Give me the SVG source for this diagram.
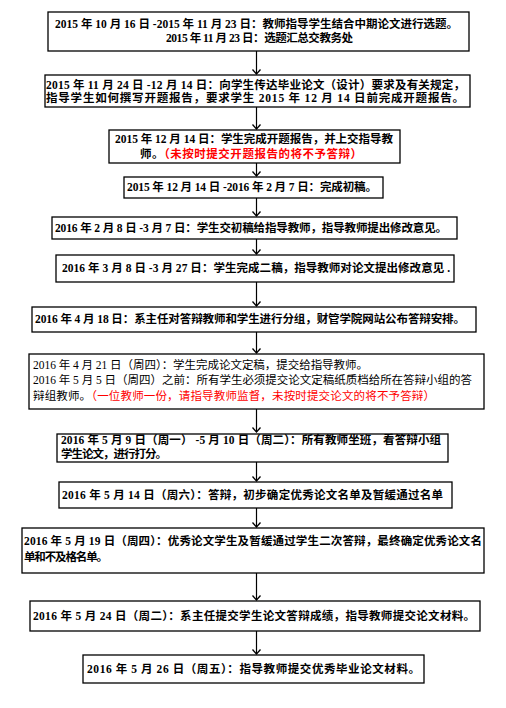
<svg xmlns="http://www.w3.org/2000/svg" width="506" height="708" viewBox="0 0 506 708">
<style>
.box{fill:#fff;stroke:#000;stroke-width:1.3}
.t{font-family:"Liberation Serif","Noto Sans CJK SC",serif;font-size:11.5px;font-weight:bold;fill:#000}
.n{font-weight:normal}
.r{fill:#ff0000}
.c{stroke:#000;stroke-width:1.2;fill:none}
</style>
<defs>
<marker id="ah" markerUnits="userSpaceOnUse" markerWidth="6" markerHeight="10" viewBox="0 0 6 10" refX="5.5" refY="5" orient="auto">
<path d="M1,1 L5.5,5 L1,9" fill="none" stroke="#000" stroke-width="1.3"/>
</marker>
</defs>
<rect width="506" height="708" fill="#fff"/>
<g id="connectors">
<line class="c" x1="256.5" y1="51" x2="256.5" y2="74" marker-end="url(#ah)"/>
<line class="c" x1="256.5" y1="107" x2="256.5" y2="129" marker-end="url(#ah)"/>
<line class="c" x1="256.5" y1="163" x2="256.5" y2="176" marker-end="url(#ah)"/>
<line class="c" x1="256.5" y1="198" x2="256.5" y2="216" marker-end="url(#ah)"/>
<line class="c" x1="256.5" y1="239" x2="256.5" y2="254" marker-end="url(#ah)"/>
<line class="c" x1="256.5" y1="282" x2="256.5" y2="306" marker-end="url(#ah)"/>
<line class="c" x1="256.5" y1="332" x2="256.5" y2="353" marker-end="url(#ah)"/>
<line class="c" x1="256.5" y1="409" x2="256.5" y2="432" marker-end="url(#ah)"/>
<line class="c" x1="256.5" y1="462" x2="256.5" y2="481" marker-end="url(#ah)"/>
<line class="c" x1="256.5" y1="508" x2="256.5" y2="527" marker-end="url(#ah)"/>
<line class="c" x1="256.5" y1="573" x2="256.5" y2="600" marker-end="url(#ah)"/>
<line class="c" x1="256.5" y1="631" x2="256.5" y2="654" marker-end="url(#ah)"/>
</g>
<g id="n1">
<rect class="box" x="48" y="12" width="421" height="39"/>
<text class="t" x="55" y="28" textLength="403" lengthAdjust="spacing">2015 年 10 月 16 日 -2015 年 11 月 23 日：教师指导学生结合中期论文进行选题。</text>
<text class="t" x="166" y="42" textLength="187" lengthAdjust="spacing">2015 年 11 月 23 日：选题汇总交教务处</text>
</g>
<g id="n2">
<rect class="box" x="45" y="75" width="425" height="32"/>
<text class="t" x="46" y="89" textLength="419" lengthAdjust="spacing">2015 年 11 月 24 日 -12 月 14 日：向学生传达毕业论文（设计）要求及有关规定，</text>
<text class="t" x="46" y="102" textLength="418" lengthAdjust="spacing">指导学生如何撰写开题报告，要求学生 2015 年 12 月 14 日前完成开题报告。</text>
</g>
<g id="n3">
<rect class="box" x="109" y="130" width="291" height="33"/>
<text class="t" x="115" y="143" textLength="278" lengthAdjust="spacing">2015 年 12 月 14 日：学生完成开题报告，并上交指导教</text>
<text class="t" x="140" y="158" textLength="222" lengthAdjust="spacing">师。<tspan class="r">（未按时提交开题报告的将不予答辩）</tspan></text>
</g>
<g id="n4">
<rect class="box" x="124" y="177" width="259" height="21"/>
<text class="t" x="127" y="191" textLength="250" lengthAdjust="spacing">2015 年 12 月 14 日 -2016 年 2 月 7 日：完成初稿。</text>
</g>
<g id="n5">
<rect class="box" x="52" y="217" width="405" height="22"/>
<text class="t" x="55" y="232" textLength="392" lengthAdjust="spacing">2016 年 2 月 8 日 -3 月 7 日：学生交初稿给指导教师，指导教师提出修改意见。</text>
</g>
<g id="n6">
<rect class="box" x="56" y="255" width="398" height="27"/>
<text class="t" x="62" y="272" textLength="388" lengthAdjust="spacing">2016 年 3 月 8 日 -3 月 27 日：学生完成二稿，指导教师对论文提出修改意见 .</text>
</g>
<g id="n7">
<rect class="box" x="32" y="307" width="444" height="25"/>
<text class="t" x="35" y="323" textLength="430" lengthAdjust="spacing">2016 年 4 月 18 日：系主任对答辩教师和学生进行分组，财管学院网站公布答辩安排。</text>
</g>
<g id="n8">
<rect class="box" x="29" y="354" width="455" height="55"/>
<text class="t n" x="33" y="369" textLength="335" lengthAdjust="spacing">2016 年 4 月 21 日（周四）：学生完成论文定稿，提交给指导教师。</text>
<text class="t n" x="33" y="384" textLength="439" lengthAdjust="spacing">2016 年 5 月 5 日（周四）之前：所有学生必须提交论文定稿纸质档给所在答辩小组的答</text>
<text class="t n" x="33" y="400" textLength="402" lengthAdjust="spacing">辩组教师。<tspan class="r">（一位教师一份，请指导教师监督，未按时提交论文的将不予答辩）</tspan></text>
</g>
<g id="n9">
<rect class="box" x="57" y="434" width="391" height="28"/>
<text class="t" x="61" y="444" textLength="380" lengthAdjust="spacing">2016 年 5 月 9 日（周一） -5 月 10 日（周二）：所有教师坐班，看答辩小组</text>
<text class="t" x="61" y="458" textLength="106" lengthAdjust="spacing">学生论文，进行打分。</text>
</g>
<g id="n10">
<rect class="box" x="59" y="482" width="393" height="26"/>
<text class="t" x="62" y="499" textLength="381" lengthAdjust="spacing">2016 年 5 月 14 日（周六）：答辩，初步确定优秀论文名单及暂缓通过名单</text>
</g>
<g id="n11">
<rect class="box" x="22" y="528" width="462" height="45"/>
<text class="t" x="24" y="545" textLength="458" lengthAdjust="spacing">2016 年 5 月 19 日（周四）：优秀论文学生及暂缓通过学生二次答辩，最终确定优秀论文名</text>
<text class="t" x="24" y="561" textLength="84" lengthAdjust="spacing">单和不及格名单。</text>
</g>
<g id="n12">
<rect class="box" x="30" y="601" width="450" height="30"/>
<text class="t" x="33" y="620" textLength="442" lengthAdjust="spacing">2016 年 5 月 24 日（周二）：系主任提交学生论文答辩成绩，指导教师提交论文材料。</text>
</g>
<g id="n13">
<rect class="box" x="83" y="655" width="341" height="28"/>
<text class="t" x="87" y="673" textLength="333" lengthAdjust="spacing">2016 年 5 月 26 日（周五）：指导教师提交优秀毕业论文材料。</text>
</g>
</svg>
